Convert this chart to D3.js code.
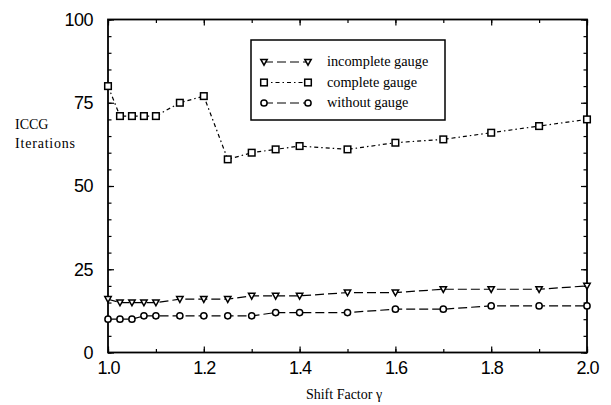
<!DOCTYPE html>
<html>
<head>
<meta charset="utf-8">
<script src="https://cdn.jsdelivr.net/npm/d3@7"></script>
<style>
  body { margin: 0; background: #fff; }
</style>
</head>
<body>
<div id="chart"></div>
<script>
    // shift factor values
    var shift = [1.0, 1.025, 1.05, 1.075, 1.1, 1.15, 1.2, 1.25, 1.3, 1.35, 1.4, 1.5, 1.6, 1.7, 1.8, 1.9, 2.0];

    var incompleta = [16, 15, 15, 15, 15, 16, 16, 16, 17, 17, 17, 18, 18, 19, 19, 19, 20];
    var completa   = [80, 71, 71, 71, 71, 75, 77, 58, 60, 61, 62, 61, 63, 64, 66, 68, 70];
    var sin_gauge  = [10, 10, 10, 11, 11, 11, 11, 11, 11, 12, 12, 12, 13, 13, 14, 14, 14];

    var ticksX = [1.0, 1.2, 1.4, 1.6, 1.8, 2.0];
    var ticksY = [0, 25, 50, 75, 100];

    var ancho = 611, alto = 405;
    var izq = 108, der = 587, arriba = 19.5, abajo = 352.5;

    var svg = d3.select("#chart")
        .append("svg")
        .attr("width", ancho)
        .attr("height", alto);

    var escalaX = d3.scaleLinear().domain([1.0, 2.0]).range([izq, der]);
    var escalaY = d3.scaleLinear().domain([0, 100]).range([abajo, arriba]);

    var menoresX = d3.range(1.0, 2.001, 0.1);
    var menoresY = d3.range(0, 100.1, 5);

    // ticks on all four sides, pointing inward
    function marcas(eje, escala, valores, pos, largo) {
        svg.append("g")
            .attr("transform", pos)
            .call(eje(escala).tickValues(valores).tickSize(largo).tickFormat(""))
            .call(function (g) { g.select(".domain").remove(); })
            .selectAll("line").attr("stroke", "#000").attr("stroke-width", 1.2);
    }
    marcas(d3.axisBottom, escalaX, menoresX, "translate(0," + abajo + ")", -3.5);
    marcas(d3.axisTop, escalaX, menoresX, "translate(0," + arriba + ")", -3.5);
    marcas(d3.axisLeft, escalaY, menoresY, "translate(" + izq + ",0)", -3.5);
    marcas(d3.axisRight, escalaY, menoresY, "translate(" + der + ",0)", -3.5);
    marcas(d3.axisBottom, escalaX, ticksX, "translate(0," + abajo + ")", -6);
    marcas(d3.axisTop, escalaX, ticksX, "translate(0," + arriba + ")", -6);
    marcas(d3.axisLeft, escalaY, ticksY, "translate(" + izq + ",0)", -6);
    marcas(d3.axisRight, escalaY, ticksY, "translate(" + der + ",0)", -6);

    // tick labels
    var ejeX = svg.append("g")
        .attr("transform", "translate(0," + abajo + ")")
        .call(d3.axisBottom(escalaX).tickValues(ticksX).tickSize(0).tickPadding(9)
            .tickFormat(d3.format(".1f")));
    ejeX.select(".domain").remove();
    ejeX.selectAll("text")
        .attr("font-family", "'Liberation Sans', Arial, sans-serif")
        .attr("font-size", "18px")
        .attr("letter-spacing", "-1px")
        .attr("fill", "#000");

    var ejeY = svg.append("g")
        .attr("transform", "translate(" + izq + ",0)")
        .call(d3.axisLeft(escalaY).tickValues(ticksY).tickSize(0).tickPadding(15));
    ejeY.select(".domain").remove();
    ejeY.selectAll("text")
        .attr("font-family", "'Liberation Sans', Arial, sans-serif")
        .attr("font-size", "18px")
        .attr("letter-spacing", "-0.5px")
        .attr("fill", "#000");

    // frame
    svg.append("rect")
        .attr("x", izq).attr("y", arriba)
        .attr("width", der - izq).attr("height", abajo - arriba)
        .attr("fill", "none").attr("stroke", "#000").attr("stroke-width", 1.8);

    var series = [
        { nombre: "incomplete gauge", valores: incompleta, dash: "9,4", simbolo: "tri" },
        { nombre: "complete gauge", valores: completa, dash: "4,3,1.5,3", simbolo: "cuad" },
        { nombre: "without gauge", valores: sin_gauge, dash: "9,4", simbolo: "circ" }
    ];

    var linea = d3.line()
        .x(function (d) { return escalaX(d[0]); })
        .y(function (d) { return escalaY(d[1]); });

    function marcador(g, tipo) {
        if (tipo === "tri") {
            g.append("path").attr("d", "M-3.2,-2.6 L3.2,-2.6 L0,3.2 Z");
        } else if (tipo === "cuad") {
            g.append("rect").attr("x", -3.3).attr("y", -3.3).attr("width", 6.6).attr("height", 6.6);
        } else {
            g.append("circle").attr("r", 3.1);
        }
        g.selectAll("*").attr("fill", "#fff").attr("stroke", "#000").attr("stroke-width", 1.5);
    }

    series.forEach(function (s) {
        var puntos = shift.map(function (x, i) { return [x, s.valores[i]]; });
        svg.append("path")
            .datum(puntos)
            .attr("d", linea)
            .attr("fill", "none")
            .attr("stroke", "#000")
            .attr("stroke-width", 1.2)
            .attr("stroke-dasharray", s.dash);
        svg.selectAll(null)
            .data(puntos)
            .enter()
            .append("g")
            .attr("transform", function (d) {
                return "translate(" + escalaX(d[0]) + "," + escalaY(d[1]) + ")";
            })
            .each(function () { marcador(d3.select(this), s.simbolo); });
    });

    // legend
    var ley = svg.append("g");
    ley.append("rect")
        .attr("x", 251).attr("y", 40).attr("width", 194).attr("height", 80)
        .attr("fill", "#fff").attr("stroke", "#000").attr("stroke-width", 1.5);
    series.forEach(function (s, i) {
        var y = 62 + i * 20.5;
        ley.append("line")
            .attr("x1", 264).attr("x2", 308).attr("y1", y).attr("y2", y)
            .attr("stroke", "#000").attr("stroke-width", 1.2)
            .attr("stroke-dasharray", s.dash);
        [264, 308].forEach(function (x) {
            marcador(ley.append("g").attr("transform", "translate(" + x + "," + y + ")"), s.simbolo);
        });
        ley.append("text")
            .attr("x", 327).attr("y", y + 4)
            .attr("font-family", "'Liberation Serif', 'Times New Roman', serif")
            .attr("font-size", "14.3px")
            .text(s.nombre);
    });

    // axis titles
    var serif = "'Liberation Serif', 'Times New Roman', serif";
    svg.append("text")
        .attr("x", 15).attr("y", 129)
        .attr("font-family", serif)
        .attr("font-size", "14px")
        .text("ICCG");
    svg.append("text")
        .attr("x", 15).attr("y", 148)
        .attr("font-family", serif)
        .attr("font-size", "14px")
        .attr("letter-spacing", "0.8px")
        .text("Iterations");
    svg.append("text")
        .attr("x", 344).attr("y", 399)
        .attr("text-anchor", "middle")
        .attr("font-family", serif)
        .attr("font-size", "14px")
        .text("Shift Factor γ");
</script>
</body>
</html>
